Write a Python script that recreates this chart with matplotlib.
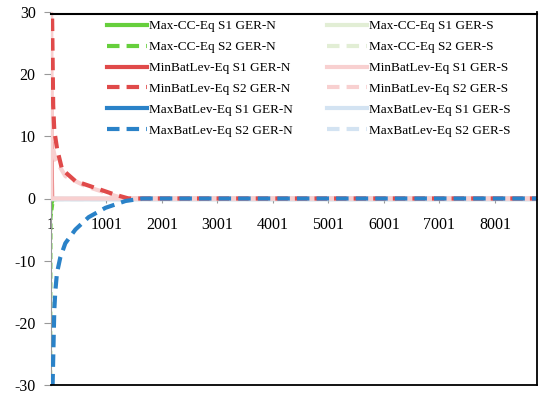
import matplotlib
matplotlib.use('Agg')
import matplotlib.pyplot as plt

plt.rcParams['font.family'] = ['Liberation Serif', 'DejaVu Serif']
plt.rcParams['axes.unicode_minus'] = False

# hours of the year (duration curves)
cc_s1_n_x = [1, 20, 60, 8760]
cc_s1_n_y = [-3, -1, 0, 0]
cc_s2_n_x = [1, 10, 40, 100, 8760]
cc_s2_n_y = [-35, -3, -1, 0, 0]
minb_s1_n_x = [1, 30, 40, 8760]
minb_s1_n_y = [35, 8, 0, 0]
minb_s2_n_x = [1, 20, 40, 60, 110, 200, 440, 800, 1160, 1400, 8760]
minb_s2_n_y = [40, 30, 15, 11, 8, 4.7, 2.8, 1.7, 0.6, 0, 0]
maxb_s1_n_x = [1, 8760]
maxb_s1_n_y = [0, 0]
maxb_s2_n_x = [1, 30, 60, 78, 108, 168, 259, 440, 680, 982, 1344, 1646, 8760]
maxb_s2_n_y = [-40, -30, -18, -15, -12, -9.5, -7.2, -5, -3, -1.5, -0.4, 0, 0]

cc_s1_s_x = [1, 8760]
cc_s1_s_y = [0, 0]
cc_s2_s_x = [1, 8760]
cc_s2_s_y = [0, 0]
minb_s1_s_x = [1, 10, 8760]
minb_s1_s_y = [35, 0, 0]
minb_s2_s_x = [1, 15, 80, 260, 620, 1100, 1300, 8760]
minb_s2_s_y = [30, 9, 6.3, 3.6, 2.0, 0.6, 0, 0]
maxb_s1_s_x = [1, 8760]
maxb_s1_s_y = [0, 0]
maxb_s2_s_x = [1, 8760]
maxb_s2_s_y = [0, 0]

xticks = list(range(1, 8002, 1000))

green, red, blue = '#66cf3c', '#e04a4a', '#2a82c8'
pgreen, pred, pblue = '#e2eed5', '#f8d0d0', '#d3e3f2'
dash = (0, (3, 1.7))

W, H = 550, 405
L, R, T, B = 51, 537, 12, 385
fig = plt.figure(figsize=(5.5, 4.05), dpi=100)
ax = fig.add_axes([L/W, 1-B/H, (R-L)/W, (B-T)/H])

lw = 3
# solid GER-N lines at the bottom, pale GER-S over them, dashed GER-N on top
l1, = ax.plot(cc_s1_n_x, cc_s1_n_y, color=green, lw=1.5, label='Max-CC-Eq S1 GER-N', zorder=2)
l2, = ax.plot(cc_s2_n_x, cc_s2_n_y, color=green, lw=1.5, ls=dash, label='Max-CC-Eq S2 GER-N', zorder=2)
l3, = ax.plot(minb_s1_n_x, minb_s1_n_y, color=red, lw=1.5, label='MinBatLev-Eq S1 GER-N', zorder=2)
l5, = ax.plot(maxb_s1_n_x, maxb_s1_n_y, color=blue, lw=lw, label='MaxBatLev-Eq S1 GER-N', zorder=2)

l7, = ax.plot(cc_s1_s_x, cc_s1_s_y, color=pgreen, lw=lw, label='Max-CC-Eq S1 GER-S', zorder=3)
l8, = ax.plot(cc_s2_s_x, cc_s2_s_y, color=pgreen, lw=lw, ls=dash, label='Max-CC-Eq S2 GER-S', zorder=3)
l11, = ax.plot(maxb_s1_s_x, maxb_s1_s_y, color=pblue, lw=lw, label='MaxBatLev-Eq S1 GER-S', zorder=3)
l12, = ax.plot(maxb_s2_s_x, maxb_s2_s_y, color=pblue, lw=lw, ls=dash, label='MaxBatLev-Eq S2 GER-S', zorder=3)
l9, = ax.plot(minb_s1_s_x, minb_s1_s_y, color=pred, lw=lw, label='MinBatLev-Eq S1 GER-S', zorder=3)
l10, = ax.plot(minb_s2_s_x, minb_s2_s_y, color=pred, lw=lw, ls=dash, label='MinBatLev-Eq S2 GER-S', zorder=3)

l4, = ax.plot(minb_s2_n_x, minb_s2_n_y, color=red, lw=lw, ls=dash, label='MinBatLev-Eq S2 GER-N', zorder=4)
l6, = ax.plot(maxb_s2_n_x, maxb_s2_n_y, color=blue, lw=lw, ls=dash, label='MaxBatLev-Eq S2 GER-N', zorder=4)

ax.set_xlim(1, 8760)
ax.set_ylim(-30, 30)
ax.set_yticks(range(-30, 31, 10))
ax.set_xticks(xticks)
ax.set_xticklabels([str(t) for t in xticks])

# x axis crosses at zero; plot area border as black lines at the limits
ax.spines['bottom'].set_position(('data', 0))
ax.spines['bottom'].set_color('#999999')
ax.spines['left'].set_color('#999999')
ax.spines['top'].set_visible(False)
ax.spines['right'].set_visible(False)
ax.axhline(29.7, color='black', lw=1.5, clip_on=False, zorder=6)
ax.axhline(-30, color='black', lw=1.3, clip_on=False, zorder=6)
ax.axvline(8760, color='black', lw=1.3, clip_on=False, zorder=6)

ax.tick_params(axis='y', direction='out', length=5, color='#999999', labelsize=11.5, pad=6)
ax.tick_params(axis='x', direction='out', length=3, color='#999999', labelsize=11.5, pad=10)

handles = [l1, l2, l3, l4, l5, l6, l7, l8, l9, l10, l11, l12]
leg = fig.legend(handles=handles, ncol=2, loc='upper left',
                 bbox_to_anchor=(107/W, 1-20/H), frameon=False,
                 fontsize=9.5, handlelength=3.0, handletextpad=0.2,
                 labelspacing=0.66, columnspacing=2.6, borderpad=0,
                 borderaxespad=0)
for h in leg.get_lines():
    h.set_linewidth(3)

fig.savefig('out.png', dpi=100)
